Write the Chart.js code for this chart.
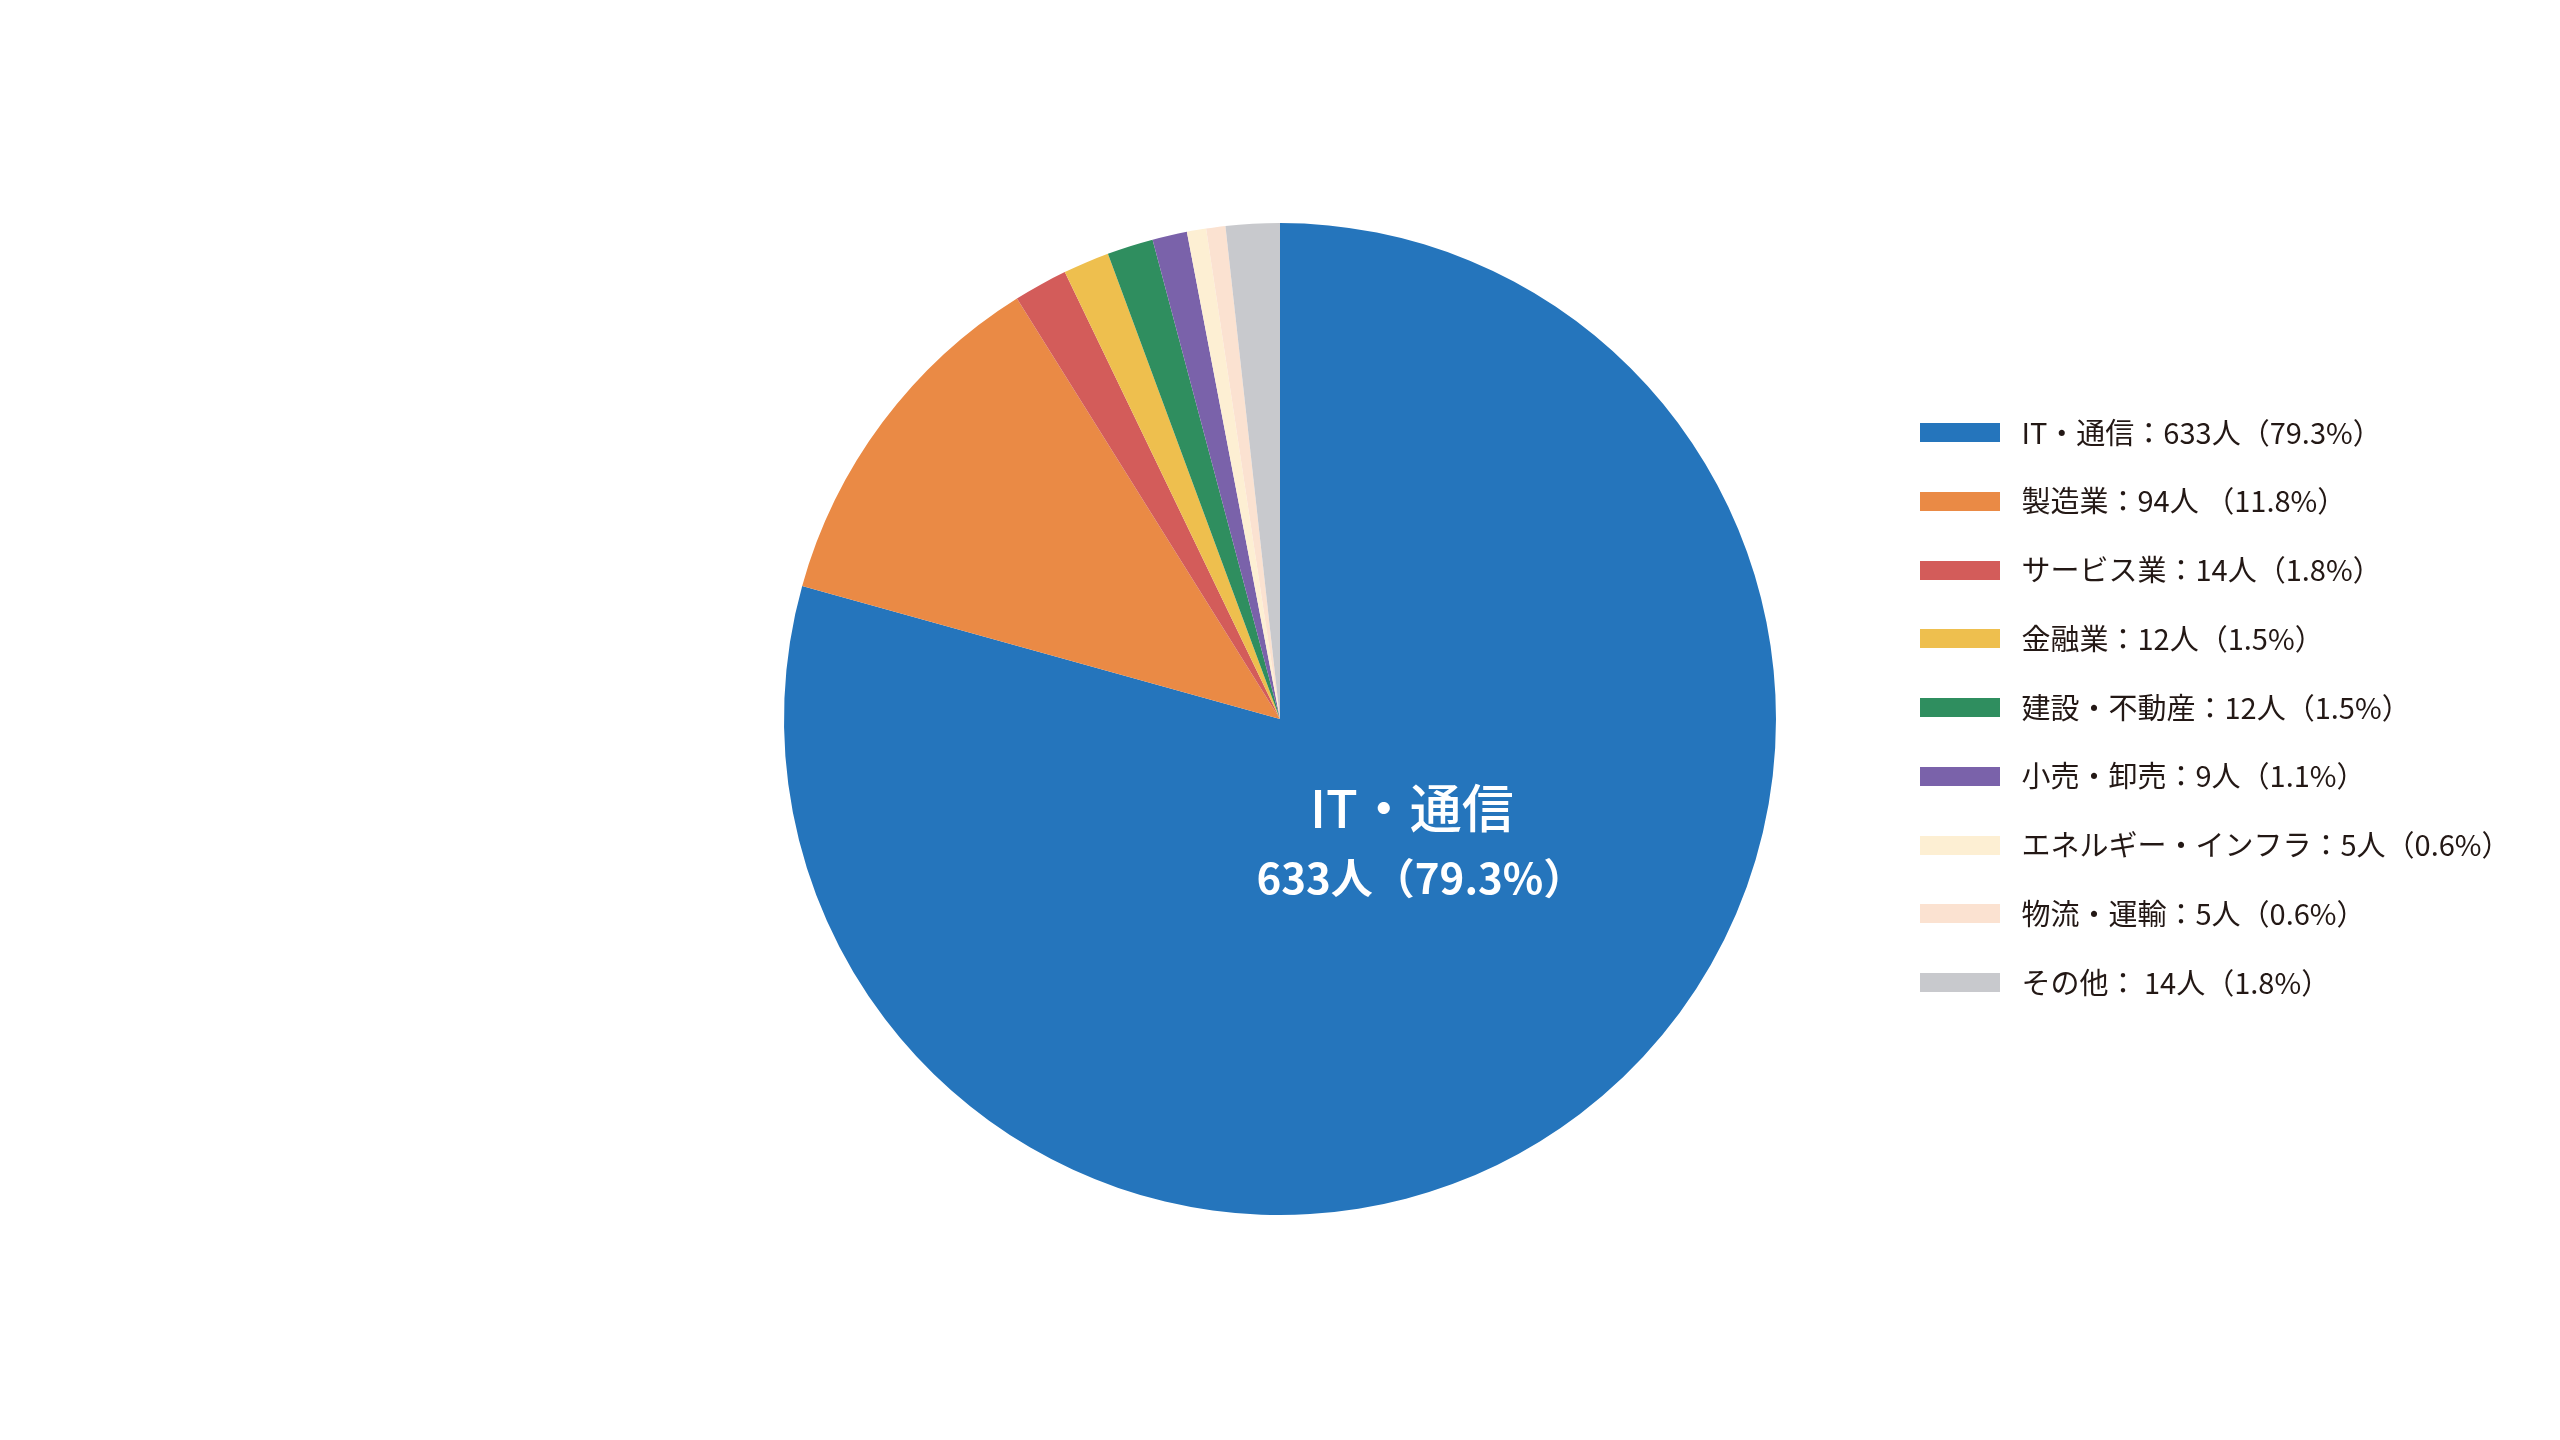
<!DOCTYPE html>
<html lang="ja">
<head>
<meta charset="utf-8">
<title>業種別 内訳</title>
<script src="https://cdn.jsdelivr.net/npm/chart.js@4"></script>
<style>
  html, body { margin: 0; padding: 0; background: #fff; }
  #wrap { width: 2560px; height: 1440px; position: relative; }
</style>
</head>
<body>
<div id="wrap"><canvas id="pieChart"></canvas></div>
<script>
// 業種ごとの人数
var categories = ["IT・通信", "製造業", "サービス業", "金融業", "建設・不動産", "小売・卸売", "エネルギー・インフラ", "物流・運輸", "その他"];
var counts = [633, 94, 14, 12, 12, 9, 5, 5, 14];
var legendTexts = [
  "IT・通信：633人（79.3%）",
  "製造業：94人 （11.8%）",
  "サービス業：14人（1.8%）",
  "金融業：12人（1.5%）",
  "建設・不動産：12人（1.5%）",
  "小売・卸売：9人（1.1%）",
  "エネルギー・インフラ：5人（0.6%）",
  "物流・運輸：5人（0.6%）",
  "その他： 14人（1.8%）"
];
var colors = ["#2575bc", "#ea8a45", "#d35c5a", "#eebf4e", "#2f8e5f", "#7a62aa", "#fdefd3", "#fbe2d1", "#c8c9cd"];

var FONT = "'Noto Sans CJK JP', 'Noto Sans', sans-serif";
var LEGEND_SIZE = 29;
var LEGEND_PAD = 39.75;
var SWATCH_W = 87;

// 凡例の色見本（右側に少し余白をつける）
function swatch(color) {
  var c = document.createElement("canvas");
  c.width = SWATCH_W;
  c.height = 19;
  var g = c.getContext("2d");
  g.fillStyle = color;
  g.fillRect(0, 0, 80, 19);
  return c;
}

// 凡例の幅を測って、凡例の左端が 1880 付近になるよう右余白を決める
var mctx = document.createElement("canvas").getContext("2d");
mctx.font = LEGEND_SIZE + "px " + FONT;
var maxText = 0;
legendTexts.forEach(function(t) { maxText = Math.max(maxText, mctx.measureText(t).width); });
var legendW = LEGEND_PAD + SWATCH_W + LEGEND_SIZE / 2 + maxText + 10;
var legendLeft = 1880.25;
var padRight = Math.max(0, 2560 - legendLeft - legendW);
var padLeft = 2 * 1280 - legendLeft;

// 一番大きい扇形の中にラベルを描く
var centerLabel = {
  id: "centerLabel",
  afterDatasetsDraw: function(chart) {
    var arc = chart.getDatasetMeta(0).data[0];
    if (!arc) return;
    var r = arc.outerRadius;
    var ctx = chart.ctx;
    ctx.save();
    ctx.fillStyle = "#ffffff";
    ctx.textAlign = "center";
    ctx.textBaseline = "middle";
    ctx.font = "500 52px " + FONT;
    ctx.fillText(categories[0], arc.x + r * 0.266, arc.y + r * 0.179);
    ctx.font = "bold 42px " + FONT;
    ctx.fillText(legendTexts[0].split("：")[1], arc.x + r * 0.284, arc.y + r * 0.32);
    ctx.restore();
  }
};

var ctx = document.getElementById("pieChart").getContext("2d");
var pieChart = new Chart(ctx, {
  type: "pie",
  data: {
    labels: categories,
    datasets: [{
      data: counts,
      backgroundColor: colors,
      borderWidth: 0
    }]
  },
  options: {
    responsive: true,
    maintainAspectRatio: false,
    animation: false,
    layout: {
      padding: { left: padLeft, right: padRight, top: 223, bottom: 225 }
    },
    plugins: {
      tooltip: { enabled: false },
      legend: {
        position: "right",
        align: "start",
        title: {
          display: true,
          text: " ",
          color: "#ffffff",
          font: { size: 10, lineHeight: 1 },
          padding: { top: 145.25, bottom: 0 }
        },
        labels: {
          usePointStyle: true,
          pointStyleWidth: SWATCH_W,
          boxHeight: 19,
          padding: LEGEND_PAD,
          color: "#231815",
          font: { family: FONT, size: LEGEND_SIZE },
          generateLabels: function(chart) {
            return legendTexts.map(function(t, i) {
              return {
                text: t,
                fillStyle: colors[i],
                strokeStyle: colors[i],
                fontColor: "#231815",
                lineWidth: 0,
                pointStyle: swatch(colors[i]),
                hidden: false,
                index: i
              };
            });
          }
        }
      }
    }
  },
  plugins: [centerLabel]
});
</script>
</body>
</html>
